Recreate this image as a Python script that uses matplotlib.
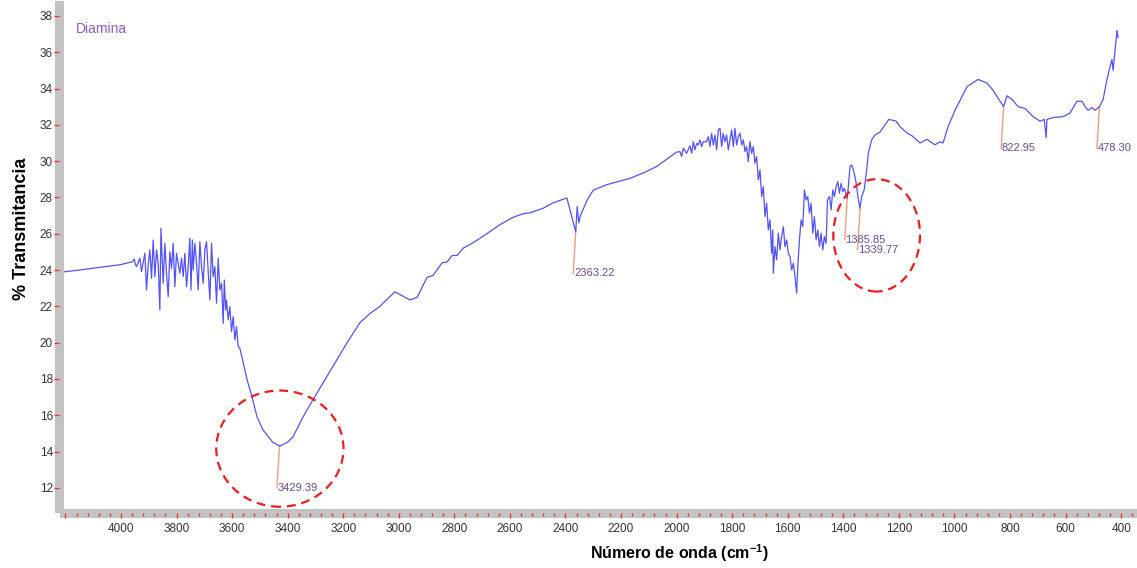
import numpy as np
import matplotlib
matplotlib.use("Agg")
import matplotlib.pyplot as plt
from matplotlib.patches import Ellipse

plt.rcParams['font.family'] = ['Liberation Sans', 'DejaVu Sans']
plt.rcParams['mathtext.fontset'] = 'custom'
plt.rcParams['mathtext.rm'] = 'Liberation Sans:bold'
plt.rcParams['mathtext.default'] = 'rm'

# FTIR spectrum of the diamine sample (wavenumber cm-1, % transmittance)
wavenumber = [
    4205, 4150, 4100, 4050, 4000, 3975, 3960, 3952, 3948,
    3944, 3932, 3926, 3914, 3908, 3902, 3896, 3890, 3884, 3878, 3872, 3866,
    3860, 3856, 3848, 3842, 3836, 3830, 3824, 3818, 3812, 3806, 3800, 3794,
    3788, 3782, 3776, 3770, 3764, 3758, 3752, 3748, 3743, 3740, 3734, 3728,
    3722, 3716, 3710, 3704, 3698, 3692, 3686, 3680, 3674, 3668, 3662, 3656,
    3650, 3644, 3638, 3632, 3628, 3623, 3620, 3614, 3608, 3602, 3596, 3590,
    3584, 3578, 3572, 3560, 3546, 3528, 3510, 3489, 3453, 3429, 3402, 3381,
    3345, 3309, 3266, 3186, 3140, 3104, 3068, 3014, 2960, 2934, 2898, 2877,
    2844, 2826, 2808, 2790, 2769, 2733, 2683, 2636, 2589, 2553, 2528, 2481,
    2445, 2395, 2363, 2358, 2352, 2346, 2322, 2300, 2252, 2168, 2120, 2072,
    2036, 2000, 1988, 1982, 1976, 1964, 1952, 1946, 1940, 1934, 1928, 1922,
    1916, 1910, 1904, 1892, 1886, 1880, 1874, 1868, 1862, 1856, 1850, 1844,
    1838, 1832, 1826, 1820, 1814, 1808, 1802, 1796, 1790, 1784, 1778,
    1772, 1766, 1760, 1754, 1748, 1742, 1736, 1730, 1724, 1718, 1712, 1706,
    1700, 1694, 1688, 1682, 1676, 1670, 1664, 1658, 1654, 1652, 1646, 1640,
    1634, 1628, 1622, 1616, 1610, 1604, 1598, 1592, 1586, 1580, 1574, 1568,
    1564, 1558, 1552, 1546, 1540, 1534, 1528, 1522, 1516, 1510, 1504, 1498,
    1492, 1486, 1480, 1474, 1468, 1462, 1457, 1450, 1444, 1438, 1432, 1426,
    1420, 1414, 1408, 1402, 1396, 1386, 1382, 1376, 1370, 1364, 1358, 1352,
    1346, 1340, 1334, 1325, 1316, 1310, 1298, 1286, 1268, 1236, 1210, 1196,
    1171, 1153, 1124, 1099, 1070, 1052, 1041, 1023, 998, 955, 915, 883,
    861, 836, 823, 811, 793, 771, 746, 717, 692, 677, 670, 667,
    645, 609, 584, 559, 541, 530, 519, 505, 494, 478, 465, 451,
    440, 433, 429, 418, 415, 411,
]
transmittance = [
    23.90, 24.00, 24.10, 24.20, 24.30, 24.40, 24.45, 24.60, 24.30,
    24.19, 24.65, 23.91, 24.92, 22.90, 24.28, 25.11, 23.54, 25.66, 23.64, 25.11, 24.37,
    21.80, 26.30, 23.27, 25.47, 23.82, 22.53, 25.01, 24.09, 25.47, 23.08, 24.92, 24.37,
    23.82, 24.65, 23.64, 24.92, 23.08, 24.19, 25.75, 22.90, 25.66, 24.00, 25.47, 24.37,
    22.90, 25.56, 24.19, 23.27, 25.11, 25.56, 23.91, 22.35, 25.47, 23.64, 24.19, 22.17,
    24.65, 22.90, 23.27, 21.06, 23.45, 21.80, 22.35, 21.25, 21.98, 20.61, 21.43, 20.15,
    20.88, 19.78, 19.69, 18.90, 17.95, 17.00, 15.90, 15.20, 14.50, 14.30, 14.50, 14.80,
    15.90, 16.85, 17.95, 20.00, 21.10, 21.60, 22.00, 22.80, 22.35, 22.50, 23.60, 23.70,
    24.40, 24.45, 24.80, 24.80, 25.20, 25.50, 26.00, 26.50, 26.90, 27.10, 27.15, 27.40,
    27.70, 27.97, 26.10, 27.50, 26.60, 27.00, 27.86, 28.40, 28.70, 29.05, 29.35, 29.70,
    30.10, 30.50, 30.52, 30.25, 30.71, 30.43, 30.84, 30.43, 31.07, 30.62, 30.98, 30.89,
    31.17, 30.80, 31.07, 31.07, 31.35, 30.80, 31.53, 30.89, 31.44, 30.62, 31.72, 31.81,
    30.80, 31.53, 31.07, 31.44, 30.62, 31.17, 31.72, 30.80, 31.81, 30.89, 31.35,
    31.54, 30.89, 31.17, 30.53, 30.80, 29.97, 31.08, 30.43, 30.80, 29.88, 30.25, 28.96,
    29.52, 28.05, 28.60, 26.94, 27.68, 26.21, 26.76, 24.92, 26.21, 23.82, 25.29, 24.56,
    26.03, 25.11, 25.84, 26.39, 25.29, 25.66, 24.92, 24.74, 24.00, 24.37, 23.64, 22.72,
    24.19, 25.66, 26.76, 26.39, 28.41, 27.86, 28.05, 27.13, 27.68, 26.03, 26.94, 25.66,
    26.21, 25.29, 26.03, 25.11, 25.84, 25.47, 27.86, 28.05, 27.31, 28.41, 28.05, 28.60,
    28.87, 28.23, 28.78, 28.32, 28.50, 27.95, 28.60, 29.70, 29.79, 29.52, 29.15, 28.60,
    27.86, 27.40, 28.05, 28.41, 29.52, 30.43, 31.17, 31.44, 31.60, 32.30, 32.20, 31.90,
    31.55, 31.40, 31.00, 31.20, 30.90, 31.06, 31.00, 31.90, 32.80, 34.10, 34.50, 34.30,
    33.90, 33.30, 33.00, 33.60, 33.40, 33.00, 32.90, 32.45, 32.20, 32.30, 31.30, 32.30,
    32.40, 32.45, 32.65, 33.30, 33.30, 33.00, 32.80, 32.95, 32.80, 33.00, 33.40, 34.50,
    35.20, 35.60, 35.00, 36.70, 37.20, 36.80,
]

# picked peaks
peak_wn = [3429.39, 2363.22, 1385.85, 1339.77, 822.95, 478.30]
peak_labels = ["3429.39", "2363.22", "1385.85", "1339.77", "822.95", "478.30"]

xticks_major = list(range(4200, 399, -200))
xtick_labels = [""] + [str(t) for t in range(4000, 399, -200)]
yticks = list(range(12, 39, 2))

fig = plt.figure(figsize=(11.37, 5.68), dpi=100)
ax = fig.add_axes([64 / 1137, 1 - 508 / 568, (1137 - 64) / 1137, (508 - 5) / 568])

ax.plot(wavenumber, transmittance, color="#5252f6", lw=0.9, zorder=3)

# peak markers: short salmon line down from the curve plus the value
wn_sorted = np.array(wavenumber[::-1])
tr_sorted = np.array(transmittance[::-1])
for w, lab in zip(peak_wn, peak_labels):
    top = np.interp(w, wn_sorted, tr_sorted)
    bottom = top - 2.3
    ax.plot([w, w + 9], [top, bottom], color="#f49a80", lw=1.0, zorder=2)
    ax.text(w + 6, bottom, lab, color="#6a4c93", fontsize=8,
            ha="left", va="center", zorder=4)

# highlighted bands
for (cx, cy, ew, eh) in [(3428, 14.16, 458, 6.4), (1280, 25.91, 312, 6.19)]:
    ax.add_patch(Ellipse((cx, cy), ew, eh, fill=False, ec="#ee1c1c",
                         lw=1.6, ls=(0, (4, 2.6)), zorder=5))

ax.text((76 - 64) / 1073, 1 - 24 / 503, "Diamina", transform=ax.transAxes,
        color="#8a5cc4", fontsize=10, ha="left", va="center")

ax.set_xlim(4205, 343)
ax.set_ylim(10.89, 38.6)

ax.set_xticks(xticks_major)
ax.set_xticklabels(xtick_labels)
ax.set_xticks(list(range(4200, 343, -40)), minor=True)
ax.set_yticks(yticks)

# thick grey axis bars with red ticks
for side in ["top", "right"]:
    ax.spines[side].set_visible(False)
for side in ["left", "bottom"]:
    ax.spines[side].set_color("#c3c3c3")
    ax.spines[side].set_linewidth(6.5)
    ax.spines[side].set_position(("outward", 3.25))
ax.xaxis.set_zorder(3)
ax.yaxis.set_zorder(3)
ax.tick_params(axis="x", which="major", direction="out", length=3.5, width=1,
               color="#ee3030", labelsize=8.5, labelcolor="#333333", pad=4)
ax.tick_params(axis="x", which="minor", direction="out", length=2, width=1,
               color="#ee3030")
ax.tick_params(axis="y", which="major", direction="out", length=3.3, width=1,
               color="#ee3030", labelsize=8.5, labelcolor="#333333", pad=1.5)

fig.text(22 / 1137, 1 - 229 / 568, "% Transmitancia", rotation=90,
         fontsize=13, fontweight="bold", ha="center", va="center")
fig.text(680 / 1137, 1 - 553 / 568, "Número de onda (cm$^{-1}$)",
         fontsize=11.5, fontweight="bold", ha="center", va="center")

fig.savefig("out.png", dpi=100)
